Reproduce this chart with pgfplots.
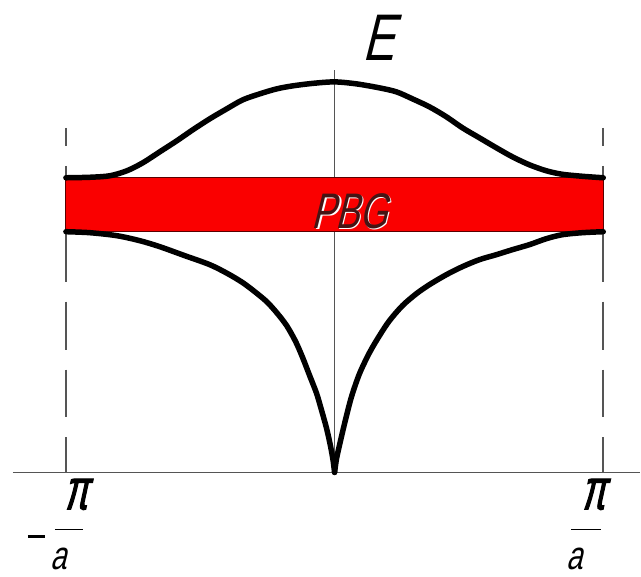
\documentclass[border=0pt]{standalone}
\usepackage{pgfplots}
\pgfplotsset{compat=1.18}
\usepackage{fontspec}
\setmainfont{Liberation Sans}
% narrow, slanted lettering in the style of a drafting font
\newfontfamily\gost[FakeSlant=0.25,FakeStretch=0.72]{Liberation Sans}
\newfontfamily\gostb[FakeSlant=0.25,FakeStretch=0.72,FakeBold=2]{Liberation Sans}
\definecolor{axisgray}{RGB}{85,85,85}
\definecolor{bandred}{RGB}{250,0,0}
\definecolor{bandedge}{RGB}{90,0,0}

\begin{document}
\begin{tikzpicture}
\begin{axis}[
  width=641pt, height=577pt, scale only axis,
  xmin=0, xmax=641, ymin=0, ymax=577,
  axis lines=none, clip=false,
]
% frame that fixes the picture size
\path (axis cs:0,0) rectangle (axis cs:641,577);

% k axis and E axis
\addplot[axisgray, line width=1.6pt] coordinates {(13,104) (641,104)};
\addplot[axisgray, line width=1.3pt] coordinates {(335,104) (335,507)};

% Brillouin zone edges
\addplot[axisgray, line width=2pt, dash pattern=on 48pt off 20pt, dash phase=30pt]
  coordinates {(66,449) (66,104)};
\addplot[axisgray, line width=2pt, dash pattern=on 48pt off 20pt, dash phase=30pt]
  coordinates {(604,449) (604,104)};

% photonic band gap
\addplot[fill=bandred, draw=bandedge, line width=1pt]
  coordinates {(66,345) (604,345) (604,399) (66,399)} -- cycle;

% upper band
\addplot[black, line width=5.5pt, smooth, tension=0.5, line cap=round] coordinates {
  (66,399) (90,399.5) (110,401) (127,406) (143,414) (160,425) (177,436)
  (193,447) (210,458) (227,468) (243,477) (260,483) (277,488) (293,491)
  (313,493.5) (335,495) (357,493) (380,489) (397,485) (413,478) (430,470)
  (447,460) (463,449) (480,439) (497,429) (513,420) (530,412) (547,406)
  (563,402.5) (583,400.5) (604,399)};

% lower band, left branch
\addplot[black, line width=5.5pt, smooth, tension=0.5, line cap=round] coordinates {
  (66,345) (90,344) (117,341) (140,336) (160,330) (185,321) (210,312)
  (228,303) (243,294) (255,285) (267,275) (277,264) (287,251) (296,235)
  (303,219) (310,201) (317,183) (322,166) (327,148) (331,130) (333.5,116)
  (335,104)};
% lower band, right branch
\addplot[black, line width=5.5pt, smooth, tension=0.5, line cap=round] coordinates {
  (335,104) (337,118) (341,136) (346,157) (352,180) (360,203) (370,224)
  (380,241) (390,256) (403,271) (417,283) (430,292) (447,302) (463,310)
  (480,317) (497,322) (513,327) (530,332) (547,338) (563,342) (583,344)
  (604,345)};

% labels
\node[font=\gost\fontsize{66}{66}\selectfont, text=black, inner sep=0pt]
  at (axis cs:379,539) {E};
\node[font=\gost\fontsize{50}{50}\selectfont, text=white, inner sep=0pt]
  at (axis cs:351.4,364) {PBG};
\node[font=\gost\fontsize{50}{50}\selectfont, text={rgb,255:red,70;green,20;blue,20}, inner sep=0pt]
  at (axis cs:350,365) {PBG};

% -pi/a
\node[font=\gostb\fontsize{50}{50}\selectfont, inner sep=0pt, yscale=1.15]
  at (axis cs:76,82) {π};
\draw[black, line width=1.6pt] (axis cs:55,47) -- (axis cs:83,47);
\draw[black, line width=3pt] (axis cs:28,40) -- (axis cs:45,40);
\node[font=\gost\fontsize{40}{40}\selectfont, inner sep=0pt, anchor=base]
  at (axis cs:59,7) {a};

% pi/a
\node[font=\gostb\fontsize{50}{50}\selectfont, inner sep=0pt, yscale=1.15]
  at (axis cs:594,82) {π};
\draw[black, line width=1.6pt] (axis cs:572,47) -- (axis cs:602,47);
\node[font=\gost\fontsize{40}{40}\selectfont, inner sep=0pt, anchor=base]
  at (axis cs:575,7) {a};
\end{axis}
\end{tikzpicture}
\end{document}
